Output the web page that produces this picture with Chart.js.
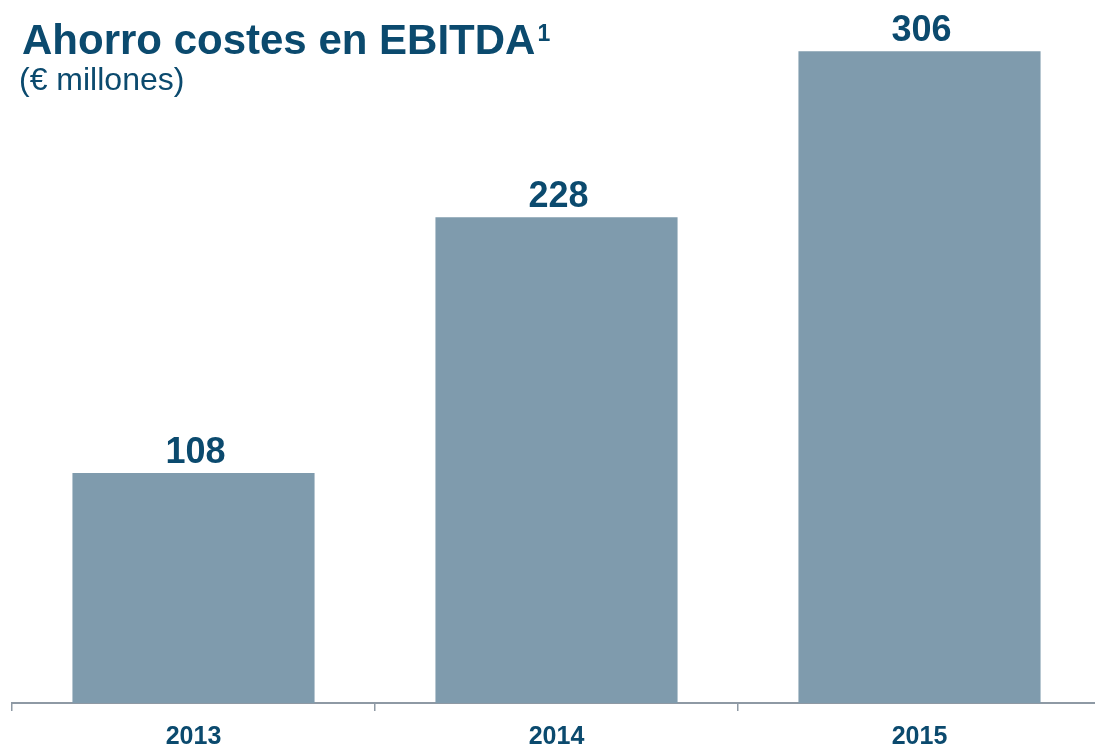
<!DOCTYPE html>
<html>
<head>
<meta charset="utf-8">
<script src="https://cdn.jsdelivr.net/npm/chart.js@4.4.0/dist/chart.umd.min.js"></script>
<style>
  html, body { margin: 0; padding: 0; background: #fff; overflow: hidden; }
  #wrap { position: relative; width: 1102px; height: 748px; }
</style>
</head>
<body>
<div id="wrap"><canvas id="ebitdaChart"></canvas></div>
<script>
var years = ['2013', '2014', '2015'];
var savings = [108, 228, 306];
var titleText = 'Ahorro costes en EBITDA';
var titleNote = '1';
var subtitleText = '(\u20ac millones)';

var navy = '#0B4A6E';
var barColor = '#7F9BAD';
var axisColor = '#8E99A4';
var fontFamily = '"Liberation Sans", Arial, Helvetica, sans-serif';

// titulo + subtitulo arriba a la izquierda
var headerPlugin = {
    id: 'header',
    afterDraw: function (chart) {
        var ctx = chart.ctx;
        ctx.save();
        ctx.fillStyle = navy;
        ctx.textAlign = 'left';
        ctx.textBaseline = 'alphabetic';
        ctx.font = 'bold 42px ' + fontFamily;
        ctx.fillText(titleText, 22, 54);
        var w = ctx.measureText(titleText).width;
        ctx.font = 'bold 23px ' + fontFamily;
        ctx.fillText(titleNote, 22 + w + 2, 41);
        ctx.font = '32px ' + fontFamily;
        ctx.fillText(subtitleText, 19, 90);
        ctx.restore();
    }
};

// valores encima de cada barra
var valueLabels = {
    id: 'valueLabels',
    afterDatasetsDraw: function (chart) {
        var ctx = chart.ctx;
        var meta = chart.getDatasetMeta(0);
        ctx.save();
        ctx.fillStyle = navy;
        ctx.font = 'bold 36px ' + fontFamily;
        ctx.textAlign = 'center';
        ctx.textBaseline = 'alphabetic';
        meta.data.forEach(function (bar, i) {
            ctx.fillText(String(chart.data.datasets[0].data[i]), bar.x + 2, bar.y - 10);
        });
        ctx.restore();
    }
};

var ctx = document.getElementById('ebitdaChart').getContext('2d');
var myChart = new Chart(ctx, {
    type: 'bar',
    data: {
        labels: years,
        datasets: [{
            data: savings,
            backgroundColor: barColor,
            borderWidth: 0,
            categoryPercentage: 1,
            barPercentage: 0.667
        }]
    },
    options: {
        responsive: true,
        maintainAspectRatio: false,
        animation: false,
        layout: { padding: { left: 12, right: 1, top: 0, bottom: 0 } },
        plugins: {
            legend: { display: false },
            title: { display: false },
            tooltip: { enabled: false }
        },
        scales: {
            x: {
                offset: true,
                border: { display: true, color: axisColor, width: 2 },
                grid: {
                    display: true,
                    offset: true,
                    drawOnChartArea: false,
                    drawTicks: true,
                    tickLength: 8,
                    color: axisColor,
                    lineWidth: 1.5
                },
                ticks: {
                    color: navy,
                    padding: 11,
                    font: { family: fontFamily, size: 25, weight: 'bold' }
                },
                afterFit: function (scale) { scale.height = 45; }
            },
            y: {
                display: false,
                min: 0,
                max: 330
            }
        }
    },
    plugins: [headerPlugin, valueLabels]
});
</script>
</body>
</html>
